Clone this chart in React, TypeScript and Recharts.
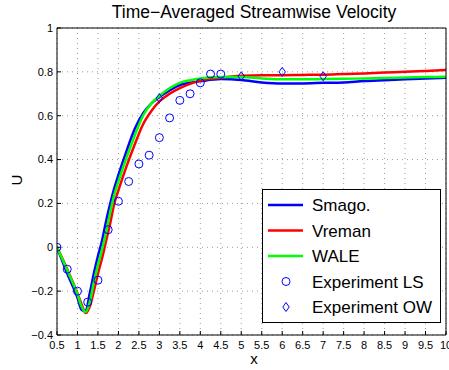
import React from 'react';
import { ComposedChart, Line, Scatter, XAxis, YAxis, CartesianGrid } from 'recharts';

const xs = [0.5, 0.75, 1.0, 1.1, 1.2, 1.3, 1.4, 1.5, 1.6, 1.7, 1.8, 1.9, 2.0, 2.2, 2.4, 2.6, 2.8, 3.0, 3.25, 3.5, 3.75, 4.0, 4.5, 5.0, 5.5, 6.0, 6.5, 7.0, 7.5, 8.0, 8.5, 9.0, 9.5, 10];
const smago = [0, -0.12, -0.23, -0.285, -0.29, -0.21, -0.12, -0.04, 0.03, 0.12, 0.2, 0.27, 0.33, 0.44, 0.54, 0.61, 0.655, 0.685, 0.715, 0.74, 0.75, 0.757, 0.767, 0.763, 0.752, 0.747, 0.747, 0.75, 0.752, 0.758, 0.762, 0.766, 0.77, 0.773];
const vreman = [0, -0.1, -0.21, -0.26, -0.3, -0.27, -0.2, -0.12, -0.05, 0.03, 0.11, 0.2, 0.26, 0.37, 0.47, 0.56, 0.62, 0.665, 0.7, 0.726, 0.745, 0.76, 0.773, 0.782, 0.785, 0.785, 0.786, 0.787, 0.79, 0.793, 0.797, 0.8, 0.804, 0.808];
const wale = [0, -0.105, -0.215, -0.27, -0.295, -0.25, -0.16, -0.08, -0.01, 0.07, 0.16, 0.24, 0.3, 0.41, 0.51, 0.6, 0.655, 0.69, 0.725, 0.75, 0.762, 0.77, 0.776, 0.776, 0.77, 0.766, 0.766, 0.767, 0.768, 0.77, 0.772, 0.774, 0.776, 0.778];

const lsX = [0.5, 0.75, 1.0, 1.25, 1.5, 1.75, 2.0, 2.25, 2.5, 2.75, 3.0, 3.25, 3.5, 3.75, 4.0, 4.25, 4.5];
const lsU = [0, -0.1, -0.2, -0.25, -0.15, 0.08, 0.21, 0.3, 0.38, 0.42, 0.5, 0.59, 0.67, 0.7, 0.75, 0.79, 0.79];
const owX = [3.0, 5.0, 6.0, 7.0];
const owU = [0.68, 0.78, 0.8, 0.78];

const xTicks = [0.5, 1, 1.5, 2, 2.5, 3, 3.5, 4, 4.5, 5, 5.5, 6, 6.5, 7, 7.5, 8, 8.5, 9, 9.5, 10];
const yTicks = [-0.4, -0.2, 0, 0.2, 0.4, 0.6, 0.8, 1];

const seriesNames = ['Smago.', 'Vreman', 'WALE'];
const seriesColors = ['#0000ff', '#ff0000', '#00ff00'];
const expNames = ['Experiment LS', 'Experiment OW'];

const lineData = xs.map((x, i) => ({ x, smago: smago[i], vreman: vreman[i], wale: wale[i] }));
const lsData = lsX.map((x, i) => ({ x, u: lsU[i] }));
const owData = owX.map((x, i) => ({ x, u: owU[i] }));

const FONT = '"Liberation Sans", Arial, Helvetica, sans-serif';

const fmtY = (v: number) => (v < 0 ? '\u2212' + String(Math.abs(v)) : String(v));

const Circle = (p: any) => (
  <circle cx={p.cx} cy={p.cy} r={4} fill="none" stroke="#0000ff" strokeWidth={1} />
);
const Diamond = (p: any) => (
  <polygon
    points={`${p.cx},${p.cy - 4.5} ${p.cx + 3.2},${p.cy} ${p.cx},${p.cy + 4.5} ${p.cx - 3.2},${p.cy}`}
    fill="none"
    stroke="#0000ff"
    strokeWidth={1}
  />
);

export default function App() {
  const keys = ['smago', 'vreman', 'wale'];
  return (
    <div style={{ position: 'absolute', left: 0, top: 0, width: 449, height: 370, background: '#fff', fontFamily: FONT }}>
      <ComposedChart
        width={449}
        height={370}
        data={lineData}
        margin={{ top: 27, right: 2, bottom: 0, left: 0 }}
      >
        <CartesianGrid
          stroke="#9a9a9a"
          strokeDasharray="1 4"
          horizontalValues={yTicks}
          verticalValues={xTicks}
        />
        <XAxis
          type="number"
          dataKey="x"
          domain={[0.5, 10]}
          ticks={xTicks}
          interval={0}
          height={35}
          tickSize={-4}
          tickMargin={10}
          stroke="#000"
          tick={{ fill: '#000', fontSize: 11, fontFamily: FONT }}
          allowDataOverflow
        />
        <XAxis
          xAxisId="top"
          orientation="top"
          type="number"
          domain={[0.5, 10]}
          ticks={xTicks}
          interval={0}
          height={1}
          tickSize={-4}
          tick={false}
          stroke="#000"
          allowDataOverflow
        />
        <YAxis
          type="number"
          domain={[-0.4, 1]}
          ticks={yTicks}
          interval={0}
          width={57}
          tickSize={-4}
          tickMargin={8}
          tickFormatter={fmtY}
          stroke="#000"
          tick={{ fill: '#000', fontSize: 11, fontFamily: FONT }}
          allowDataOverflow
        />
        <YAxis
          yAxisId="right"
          orientation="right"
          type="number"
          domain={[-0.4, 1]}
          ticks={yTicks}
          interval={0}
          width={1}
          tickSize={-4}
          tick={false}
          stroke="#000"
          allowDataOverflow
        />
        {keys.map((k, i) => (
          <Line
            key={k}
            type="monotone"
            dataKey={k}
            stroke={seriesColors[i]}
            strokeWidth={2.5}
            dot={false}
            isAnimationActive={false}
          />
        ))}
        <Scatter data={lsData} dataKey="u" shape={Circle} isAnimationActive={false} />
        <Scatter data={owData} dataKey="u" shape={Diamond} isAnimationActive={false} />
      </ComposedChart>
      <svg
        width={449}
        height={370}
        style={{ position: 'absolute', left: 0, top: 0, pointerEvents: 'none' }}
      >
        <text x={254} y={18} textAnchor="middle" fontSize={17.5} fontFamily={FONT} fill="#000">
          Time−Averaged Streamwise Velocity
        </text>
        <text x={254} y={364} textAnchor="middle" fontSize={15} fontFamily={FONT} fill="#000">
          x
        </text>
        <text
          x={22}
          y={180}
          textAnchor="middle"
          fontSize={15}
          fontFamily={FONT}
          fill="#000"
          transform="rotate(-90 22 180)"
        >
          U
        </text>
        <rect x={262.5} y={189.5} width={178} height={133} fill="#fff" stroke="#000" strokeWidth={1} />
        {seriesNames.map((n, i) => (
          <g key={n}>
            <line x1={268} x2={303} y1={205 + i * 25.5} y2={205 + i * 25.5} stroke={seriesColors[i]} strokeWidth={2.5} />
            <text x={312} y={205 + i * 25.5 + 6} fontSize={17} fontFamily={FONT} fill="#000">
              {n}
            </text>
          </g>
        ))}
        {expNames.map((n, j) => {
          const cy = 205 + (j + 3) * 25.5;
          return (
            <g key={n}>
              {j === 0 ? <Circle cx={286} cy={cy} /> : <Diamond cx={286} cy={cy} />}
              <text x={312} y={cy + 6} fontSize={17} fontFamily={FONT} fill="#000">
                {n}
              </text>
            </g>
          );
        })}
      </svg>
    </div>
  );
}
